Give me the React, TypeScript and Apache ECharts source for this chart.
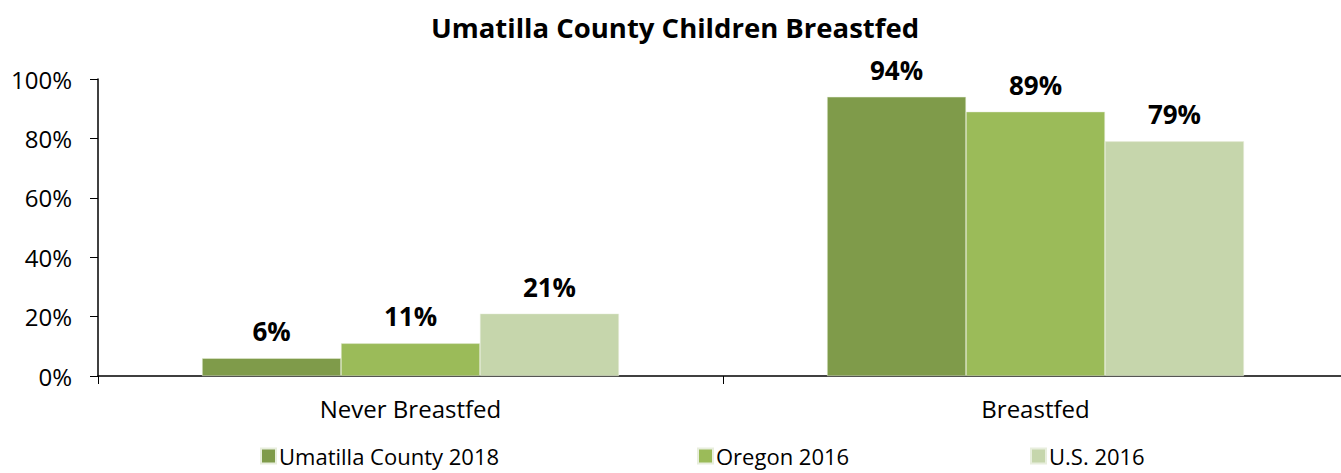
import React, { useEffect, useRef } from "react";
import * as echarts from "echarts";

const categories = ["Never Breastfed", "Breastfed"];
const seriesNames = ["Umatilla County 2018", "Oregon 2016", "U.S. 2016"];
const umatilla = [6, 94];
const oregon = [11, 89];
const us = [21, 79];
const colors = ["#7f9b4a", "#9bbb59", "#c6d6ac"];
const FONT = "'Open Sans', 'Noto Sans', sans-serif";

export default function App() {
  const ref = useRef<HTMLDivElement>(null);
  useEffect(() => {
    if (!ref.current) return;
    const chart = echarts.init(ref.current, null, { renderer: "svg" });
    const values = [umatilla, oregon, us];
    const legendLefts = [260, 697, 1030];
    chart.setOption({
      animation: false,
      textStyle: { fontFamily: FONT },
      title: {
        text: "Umatilla County Children Breastfed",
        left: "center",
        top: 10,
        padding: 0,
        textStyle: { fontFamily: FONT, fontSize: 27.5, fontWeight: "bold", color: "#000", lineHeight: 34 },
      },
      legend: seriesNames.map((n, i) => ({
        data: [n],
        left: legendLefts[i],
        top: 445,
        padding: 0,
        icon: "rect",
        itemWidth: 15,
        itemHeight: 15,
        itemGap: 4,
        textStyle: { fontFamily: FONT, fontSize: 22, lineHeight: 22, color: "#000", padding: [0, 0, 0, -2] },
      })),
      grid: { left: 98, top: 79, bottom: 97, right: 2, containLabel: false },
      xAxis: {
        type: "category",
        data: categories,
        axisLine: { lineStyle: { color: "#000", width: 1.5 } },
        axisTick: { show: true, length: 8, lineStyle: { color: "#000" } },
        axisLabel: { color: "#000", fontSize: 24, fontFamily: FONT, margin: 20 },
      },
      yAxis: {
        type: "value",
        min: 0,
        max: 100,
        interval: 20,
        axisLine: { show: true, lineStyle: { color: "#000", width: 1.5 } },
        axisTick: { show: true, length: 8, lineStyle: { color: "#000" } },
        splitLine: { show: false },
        axisLabel: { color: "#000", fontSize: 24, fontFamily: FONT, margin: 26, formatter: "{value}%" },
      },
      series: seriesNames.map((n, i) => ({
        name: n,
        type: "bar",
        data: values[i],
        barGap: "0%",
        barCategoryGap: "33.3%",
        itemStyle: { color: colors[i], borderColor: "#e8eedd", borderWidth: 0.5 },
        label: {
          show: true,
          position: "top",
          distance: 14,
          formatter: "{c}%",
          fontFamily: FONT,
          fontSize: 26,
          fontWeight: "bold",
          color: "#000",
        },
      })),
    });
    return () => chart.dispose();
  }, []);
  return (
    <div style={{ position: "absolute", left: 0, top: 0, width: 1341, height: 473, overflow: "hidden" }}>
      <div ref={ref} style={{ position: "absolute", left: 0, top: 0, width: 1350, height: 473 }} />
    </div>
  );
}
